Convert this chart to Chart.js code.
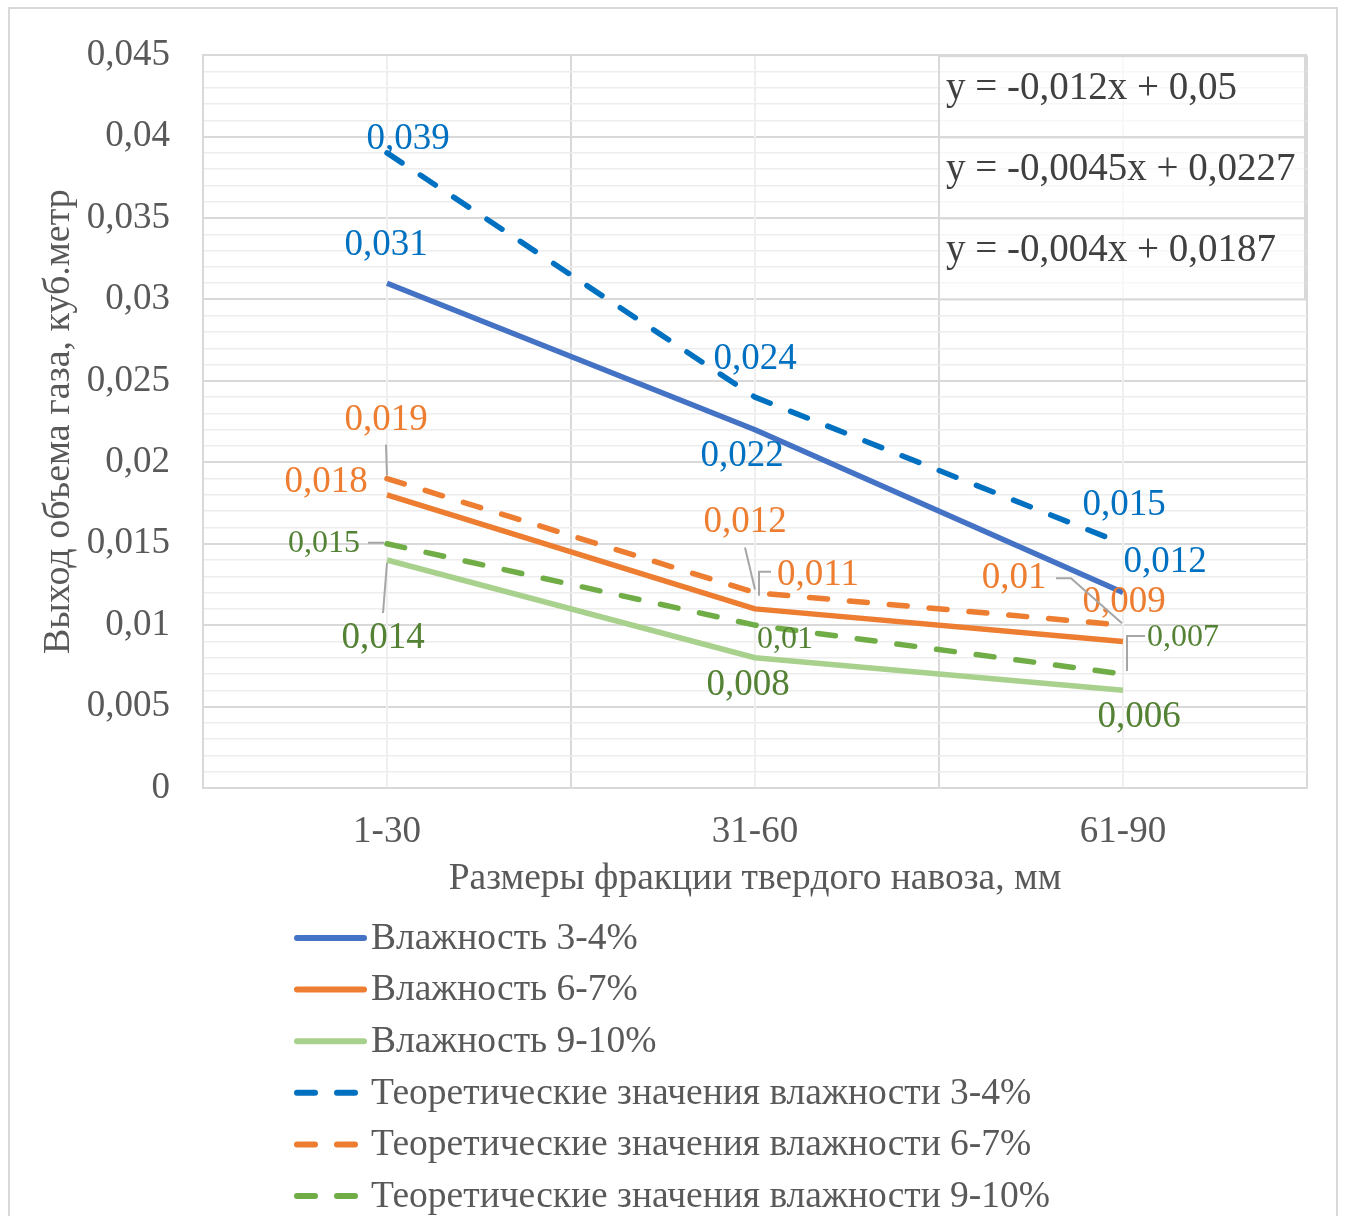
<!DOCTYPE html>
<html>
<head>
<meta charset="utf-8">
<script src="https://cdn.jsdelivr.net/npm/chart.js@4.4.1/dist/chart.umd.min.js"></script>
<style>
  html, body { margin: 0; padding: 0; background: #fff; }
  canvas { display: block; }
</style>
</head>
<body>
<canvas id="gasChart" width="1345" height="1216"></canvas>
<script>
// --- данные ---
const fractions = ['1-30', '31-60', '61-90'];
const seriesNames = [
    'Влажность 3-4%',
    'Влажность 6-7%',
    'Влажность 9-10%',
    'Теоретические значения влажности 3-4%',
    'Теоретические значения влажности 6-7%',
    'Теоретические значения влажности 9-10%'
];
const humid34 = [0.031, 0.022, 0.012];
const humid67 = [0.018, 0.011, 0.009];
const humid910 = [0.014, 0.008, 0.006];
const theory34 = [0.039, 0.024, 0.015];
const theory67 = [0.019, 0.012, 0.010];
const theory910 = [0.015, 0.010, 0.007];
const trendEquations = ['y = -0,012x + 0,05', 'y = -0,0045x + 0,0227', 'y = -0,004x + 0,0187'];
const yMin = 0, yMax = 0.045, yMajorStep = 0.005, yMinorStep = 0.001;

const FONT = "'Liberation Serif', 'Times New Roman', serif";
const TXT = '#595959';
const fmt = v => String(Math.round(v * 1000) / 1000).replace('.', ',');

// смещения подписей и выноски (в пикселях от точки)
function makeSet(name, data, color, dashed, labColor, labSize, offs, leaders) {
    return {
        label: name, data: data,
        borderColor: color, backgroundColor: color,
        borderWidth: 5.5,
        borderDash: dashed ? [18, 22] : [],
        borderCapStyle: dashed ? 'round' : 'butt',
        borderJoinStyle: 'round',
        pointRadius: 0, tension: 0, fill: false,
        labColor: labColor, labSize: labSize, offs: offs, leaders: leaders || []
    };
}

const datasets = [
    makeSet(seriesNames[0], humid34, '#4472C4', false, '#0070C0', 37,
        [[-1, -38], [-13, 27], [42, -30]]),
    makeSet(seriesNames[1], humid67, '#ED7D31', false, '#ED7D31', 37,
        [[-61, -13], [63, -34], [1, -39]],
        [null, [[16, -37], [4, -37], [4, -13]], null]),
    makeSet(seriesNames[2], humid910, '#A9D18E', false, '#548235', 37,
        [[-4, 78], [-7, 28], [16, 27]],
        [[[-4, 53], [0, 3]], null, null]),
    makeSet(seriesNames[3], theory34, '#0070C0', true, '#0070C0', 37,
        [[21, -14], [0, -38], [1, -38]]),
    makeSet(seriesNames[4], theory67, '#ED7D31', true, '#ED7D31', 37,
        [[-1, -58], [-10, -70], [-109, -47]],
        [[[-1, -34], [0, -3]], [[-10, -45], [0, -3]], [[-67, -47], [-52, -47], [-1, -2]]]),
    makeSet(seriesNames[5], theory910, '#70AD47', true, '#548235', 32,
        [[-63, 0], [30, 14], [60, -36]],
        [[[-19, -1], [-3, -1]], null, [[22, -38], [4, -38], [4, -3]]])
];

// рамка и фон
const framePlugin = {
    id: 'frame',
    beforeDraw(chart) {
        const c = chart.ctx;
        c.save();
        c.fillStyle = '#fff';
        c.fillRect(0, 0, chart.width, chart.height);
        c.strokeStyle = '#D9D9D9';
        c.lineWidth = 2;
        c.strokeRect(9, 8, 1328, 1240);
        c.restore();
    },
    beforeDatasetsDraw(chart) {
        // бледные вертикальные линии по центрам категорий
        const c = chart.ctx, x = chart.scales.x, a = chart.chartArea;
        c.save();
        c.strokeStyle = '#EFEFEF';
        c.lineWidth = 2;
        fractions.forEach((f, i) => {
            const px = x.getPixelForValue(i);
            c.beginPath(); c.moveTo(px, a.top + 1); c.lineTo(px, a.bottom - 1); c.stroke();
        });
        c.restore();
    }
};

// уравнения линий тренда
const equationPlugin = {
    id: 'equations',
    afterDatasetsDraw(chart) {
        const c = chart.ctx, a = chart.chartArea;
        const left = chart.scales.x.getPixelForValue(1.5);
        const right = a.right - 2;
        const top = a.top + 1;
        const bottom = chart.scales.y.getPixelForValue(0.03);
        const h = (bottom - top) / trendEquations.length;
        c.save();
        trendEquations.forEach((eq, i) => {
            const y0 = top + h * i;
            c.fillStyle = 'rgba(255,255,255,0.55)';
            c.fillRect(left, y0, right - left, h);
            c.strokeStyle = '#D9D9D9';
            c.lineWidth = 2;
            c.strokeRect(left, y0, right - left, h);
            c.fillStyle = '#404040';
            c.font = '39px ' + FONT;
            c.textAlign = 'left';
            c.textBaseline = 'middle';
            c.fillText(eq, left + 7, y0 + h / 2 - 8);
        });
        c.restore();
    }
};

// подписи данных с выносками
const labelsPlugin = {
    id: 'dataLabels',
    afterDatasetsDraw(chart) {
        const c = chart.ctx;
        c.save();
        chart.data.datasets.forEach((ds, di) => {
            const meta = chart.getDatasetMeta(di);
            meta.data.forEach((pt, i) => {
                const off = ds.offs[i] || [0, -30];
                const ld = ds.leaders[i];
                if (ld) {
                    c.strokeStyle = '#A6A6A6';
                    c.lineWidth = 2;
                    c.setLineDash([]);
                    c.beginPath();
                    ld.forEach((p, k) => {
                        if (k === 0) c.moveTo(pt.x + p[0], pt.y + p[1]);
                        else c.lineTo(pt.x + p[0], pt.y + p[1]);
                    });
                    c.stroke();
                }
                c.fillStyle = ds.labColor;
                c.font = ds.labSize + 'px ' + FONT;
                c.textAlign = 'center';
                c.textBaseline = 'middle';
                c.fillText(fmt(ds.data[i]), pt.x + off[0], pt.y + off[1]);
            });
        });
        c.restore();
    }
};

// легенда столбиком внизу
const legendPlugin = {
    id: 'columnLegend',
    afterDraw(chart) {
        const c = chart.ctx;
        const x0 = 297, x1 = 364, tx = 371, y0 = 938, step = 51.6;
        c.save();
        chart.data.datasets.forEach((ds, i) => {
            const y = y0 + step * i;
            c.strokeStyle = ds.borderColor;
            c.lineWidth = 6;
            c.lineCap = 'round';
            c.setLineDash(ds.borderDash);
            c.beginPath(); c.moveTo(x0, y); c.lineTo(x1, y); c.stroke();
            c.setLineDash([]);
            c.fillStyle = TXT;
            c.font = '37.5px ' + FONT;
            c.textAlign = 'left';
            c.textBaseline = 'middle';
            c.fillText(ds.label, tx, y + 1);
        });
        c.restore();
    }
};

const isMajor = v => Math.round(v * 1000) % Math.round(yMajorStep * 1000) === 0;

new Chart(document.getElementById('gasChart'), {
    type: 'line',
    data: { labels: fractions, datasets: datasets },
    plugins: [framePlugin, equationPlugin, labelsPlugin, legendPlugin],
    options: {
        responsive: false,
        animation: false,
        layout: { padding: { left: 10, top: 52, right: 38, bottom: 314 } },
        plugins: { legend: { display: false }, tooltip: { enabled: false } },
        scales: {
            x: {
                offset: true,
                grid: { offset: true, color: '#D9D9D9', lineWidth: 2, drawTicks: false },
                border: { display: true, color: '#D9D9D9', width: 2 },
                ticks: { color: TXT, font: { family: FONT, size: 37 }, padding: 22 },
                title: { display: true, text: 'Размеры фракции твердого навоза, мм', color: TXT,
                    font: { family: FONT, size: 37.5 }, padding: { top: 0, bottom: 0 } },
                afterFit: s => { s.height = 114; }
            },
            y: {
                min: yMin, max: yMax,
                grid: {
                    drawTicks: false,
                    color: ctx => (ctx.tick && isMajor(ctx.tick.value)) ? '#D9D9D9' : '#EDEDED',
                    lineWidth: ctx => (ctx.tick && isMajor(ctx.tick.value)) ? 2 : 1.5
                },
                border: { display: true, color: '#D9D9D9', width: 2 },
                ticks: {
                    stepSize: yMinorStep, autoSkip: false, padding: 33,
                    color: TXT, font: { family: FONT, size: 37 },
                    callback: v => isMajor(v) ? fmt(v) : ''
                },
                title: { display: true, text: 'Выход объема газа, куб.метр', color: TXT,
                    font: { family: FONT, size: 38 }, padding: { top: 26, bottom: 0 } },
                afterFit: s => { s.width = 193; }
            }
        }
    }
});
</script>
</body>
</html>
